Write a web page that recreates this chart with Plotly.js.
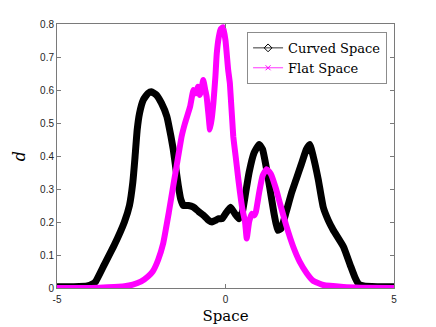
<!DOCTYPE html>
<html>
<head>
<meta charset="utf-8">
<script src="https://cdn.plot.ly/plotly-3.0.1.min.js"></script>
<style>
  html, body { margin: 0; padding: 0; background: #fff; }
  #chart { width: 436px; height: 327px; }
</style>
</head>
<body>
<div id="chart"></div>
<script>
// Curved vs flat space density
const curvedX = [-5, -4.5, -4.1, -3.95, -3.85, -3.6, -3.3, -3.0, -2.85, -2.75, -2.69, -2.62, -2.55, -2.44, -2.3, -2.2,
  -2.05, -1.9, -1.74, -1.62, -1.55, -1.47, -1.4, -1.33, -1.25, -1.1, -0.95, -0.8, -0.65, -0.5, -0.4, -0.3, -0.2, -0.1,
  0.0, 0.15, 0.28, 0.4, 0.5, 0.6, 0.7, 0.85, 1.0, 1.1, 1.22, 1.32, 1.45, 1.55, 1.65, 1.8, 1.95, 2.1, 2.25, 2.4, 2.5,
  2.6, 2.75, 2.9, 3.05, 3.2, 3.5, 3.7, 3.85, 3.95, 4.1, 4.5, 5];
const curvedY = [0.004, 0.004, 0.006, 0.012, 0.02, 0.07, 0.13, 0.2, 0.25, 0.32, 0.39, 0.48, 0.53, 0.57, 0.59, 0.595,
  0.585, 0.56, 0.52, 0.46, 0.42, 0.36, 0.31, 0.27, 0.25, 0.25, 0.245, 0.232, 0.22, 0.205, 0.2, 0.205, 0.21, 0.21,
  0.225, 0.245, 0.225, 0.21, 0.23, 0.29, 0.35, 0.41, 0.435, 0.42, 0.36, 0.3, 0.22, 0.175, 0.18, 0.23, 0.285, 0.33, 0.375, 0.42, 0.435,
  0.4, 0.33, 0.245, 0.205, 0.175, 0.125, 0.07, 0.03, 0.012, 0.006, 0.004, 0.004];

const flatX = [-5, -4, -3.5, -3.0, -2.75, -2.5, -2.3, -2.16, -2.0, -1.85, -1.68, -1.55, -1.45, -1.3, -1.2, -1.05, -0.95,
  -0.88, -0.82, -0.76, -0.7, -0.66, -0.6, -0.56, -0.5, -0.46, -0.4, -0.36, -0.3, -0.26, -0.2, -0.14, -0.07, 0.0, 0.08,
  0.13, 0.23, 0.3, 0.38, 0.43, 0.5, 0.58, 0.63, 0.7, 0.78, 0.85, 0.9, 1.0, 1.1, 1.22, 1.35, 1.5, 1.62, 1.8, 2.01, 2.2,
  2.41, 2.6, 2.9, 3.5, 4, 5];
const flatY = [0.0, 0.0, 0.002, 0.005, 0.01, 0.02, 0.035, 0.05, 0.085, 0.135, 0.23, 0.31, 0.37, 0.46, 0.5, 0.55, 0.6,
  0.59, 0.61, 0.585, 0.61, 0.63, 0.6, 0.58, 0.52, 0.48, 0.52, 0.56, 0.64, 0.71, 0.76, 0.785, 0.79, 0.75, 0.66,
  0.62, 0.46, 0.4, 0.33, 0.29, 0.24, 0.2, 0.15, 0.2, 0.225, 0.22, 0.23, 0.29, 0.34, 0.36, 0.345, 0.3, 0.255, 0.19, 0.125, 0.08,
  0.045, 0.022, 0.009, 0.003, 0.001, 0.0];

const seriesNames = ['Curved Space', 'Flat Space'];
const xTicks = [-5, 0, 5];
const yTicks = [0, 0.1, 0.2, 0.3, 0.4, 0.5, 0.6, 0.7, 0.8];

const axisColor = '#7a7a7a';
const tickFont = { family: 'Liberation Sans, Arial, sans-serif', size: 10, color: '#262626' };
const serif = 'DejaVu Serif, serif';

const data = [
  {
    x: curvedX, y: curvedY, mode: 'lines', type: 'scatter',
    line: { color: '#000000', width: 7, shape: 'spline', smoothing: 0.4 },
    showlegend: false, hoverinfo: 'skip',
  },
  {
    x: flatX, y: flatY, mode: 'lines', type: 'scatter',
    line: { color: '#ff00ff', width: 6, shape: 'spline', smoothing: 0.4 },
    showlegend: false, hoverinfo: 'skip',
  },
  // legend entries: thin line with the marker, like the original
  {
    x: [null], y: [null], mode: 'lines+markers', type: 'scatter', name: seriesNames[0],
    line: { color: '#000000', width: 0.8 },
    marker: { symbol: 'diamond-open', size: 6, color: '#000000', line: { width: 1 } },
  },
  {
    x: [null], y: [null], mode: 'lines+markers', type: 'scatter', name: seriesNames[1],
    line: { color: '#ff00ff', width: 0.8 },
    marker: { symbol: 'x-thin-open', size: 5, color: '#ff00ff', line: { width: 1, color: '#ff00ff' } },
  },
];

const layout = {
  width: 436, height: 327,
  margin: { l: 57, r: 42, t: 24, b: 39 },
  paper_bgcolor: '#ffffff', plot_bgcolor: '#ffffff',
  font: { family: serif, color: '#000000' },
  xaxis: {
    range: [-5, 5], tickvals: xTicks, ticktext: xTicks.map(String),
    showline: true, linecolor: axisColor, linewidth: 1, mirror: 'ticks',
    ticks: 'inside', ticklen: 4, tickcolor: axisColor,
    showgrid: false, zeroline: false, tickfont: tickFont, ticklabelstandoff: 2,
    title: { text: 'Space', font: { family: serif, size: 15, color: '#000000' }, standoff: 6 },
  },
  yaxis: {
    range: [0, 0.8], tickvals: yTicks, ticktext: yTicks.map(String),
    showline: true, linecolor: axisColor, linewidth: 1, mirror: 'ticks',
    ticks: 'inside', ticklen: 4, tickcolor: axisColor,
    showgrid: false, zeroline: false, tickfont: tickFont,
    title: { text: '<i>d</i>', font: { family: serif, size: 16, color: '#000000' }, standoff: 10 },
  },
  legend: {
    x: 0.564, y: 0.97, xanchor: 'left', yanchor: 'top',
    bgcolor: '#ffffff', bordercolor: '#8c8c8c', borderwidth: 1,
    font: { family: serif, size: 13, color: '#000000' },
    tracegroupgap: 0,
  },
};

Plotly.newPlot('chart', data, layout, { staticPlot: true });
</script>
</body>
</html>
